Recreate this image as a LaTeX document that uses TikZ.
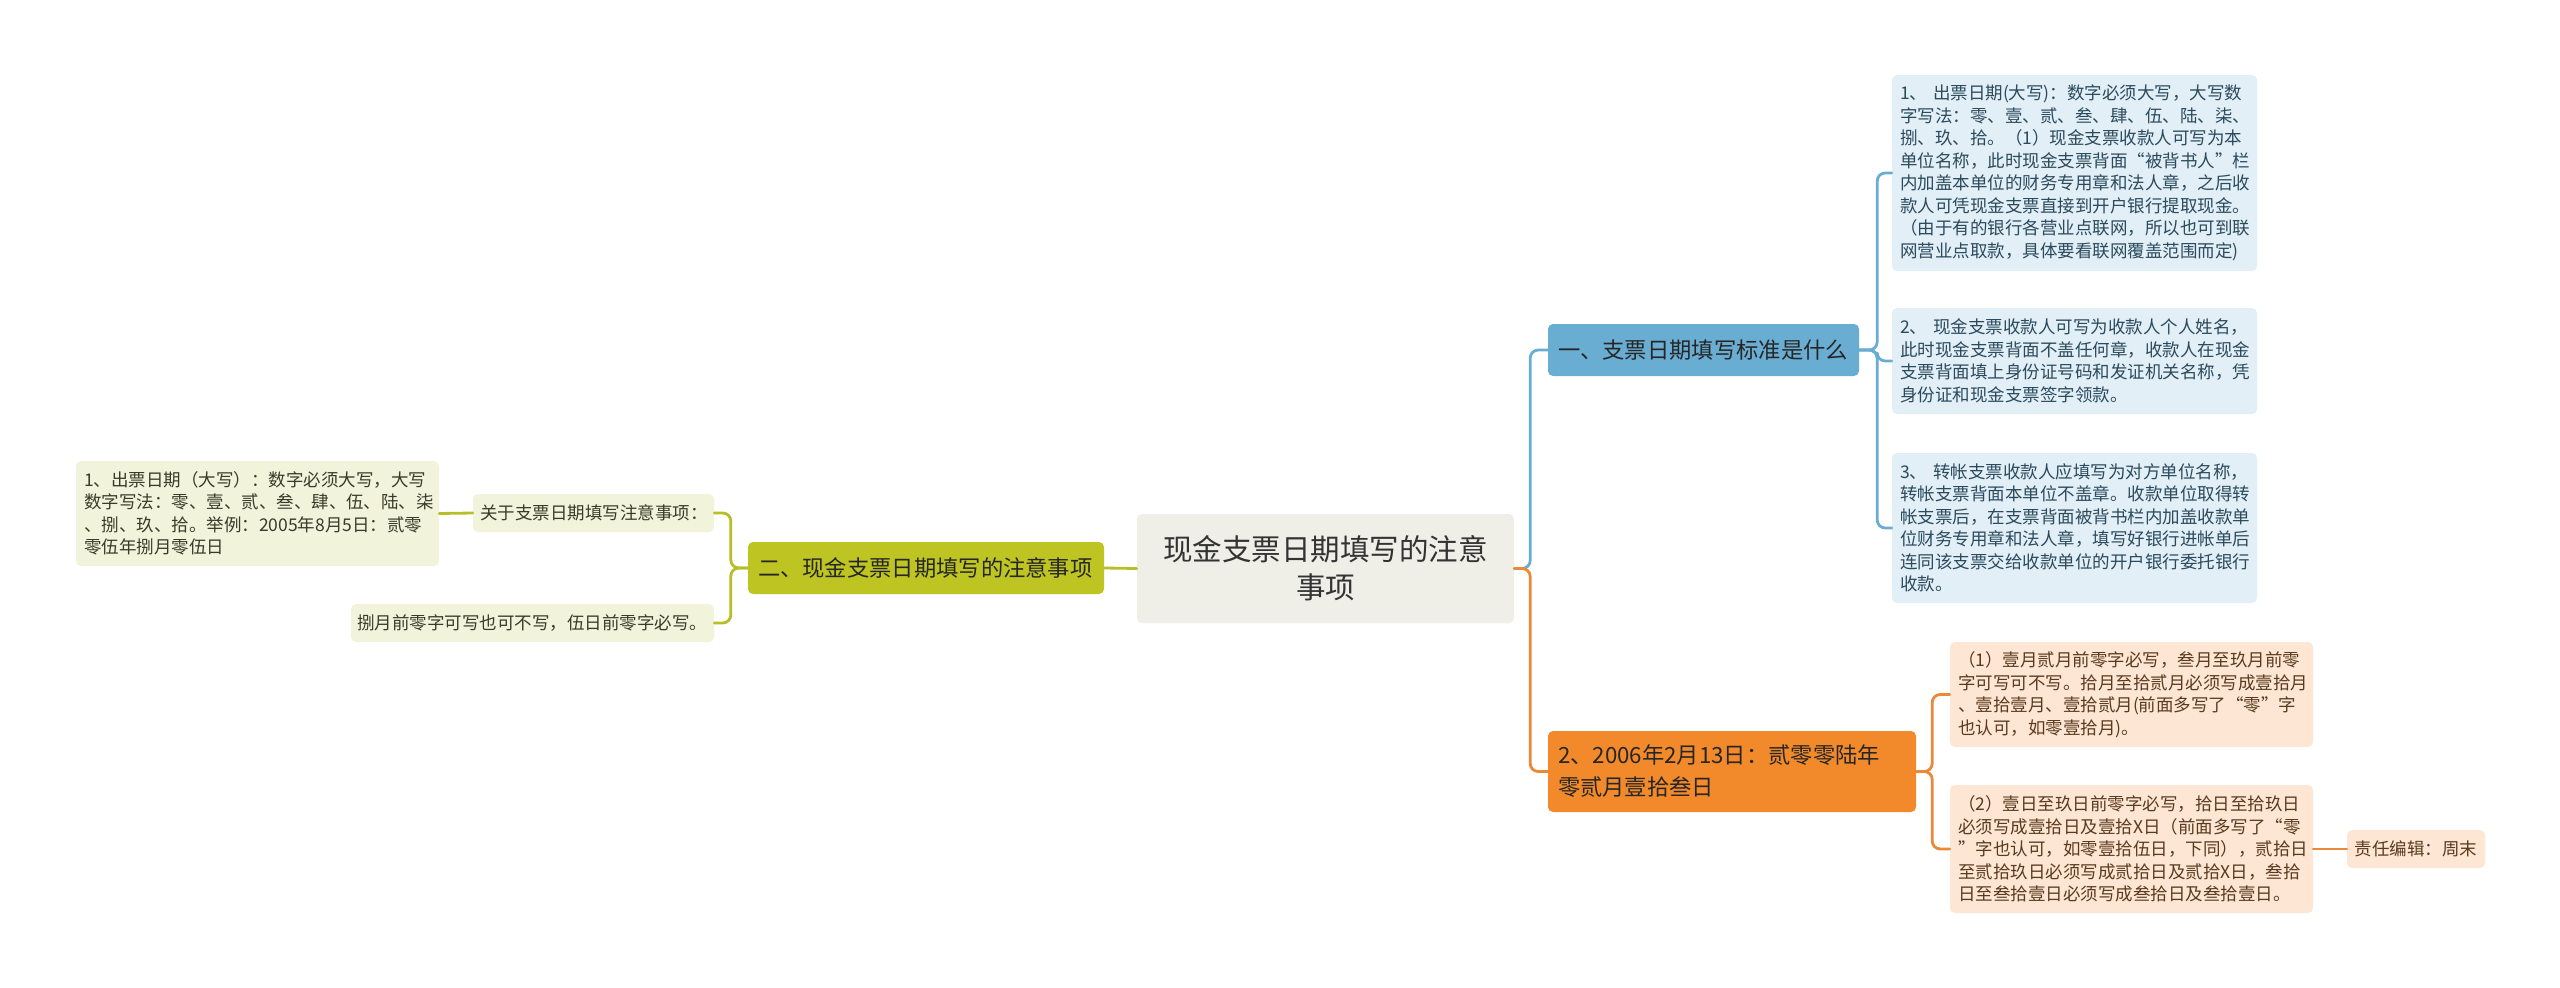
\documentclass[tikz,border=0pt]{standalone}
\usepackage{fontspec}
\setmainfont{Noto Sans CJK SC}
\usepackage{tikz}
\usetikzlibrary{positioning}

\definecolor{hubfill}{HTML}{EFEFE8}
\definecolor{bluemain}{HTML}{6AADD2}
\definecolor{bluesoft}{HTML}{E2EFF7}
\definecolor{bluetext}{HTML}{2B4A5C}
\definecolor{orangemain}{HTML}{F28A2C}
\definecolor{orangeline}{HTML}{EA8A38}
\definecolor{orangesoft}{HTML}{FDE6D4}
\definecolor{orangetext}{HTML}{5A3A1E}
\definecolor{greenmain}{HTML}{BEC523}
\definecolor{greenline}{HTML}{B6BF2A}
\definecolor{greensoft}{HTML}{F1F3DA}
\definecolor{greentext}{HTML}{3A3A2A}

\tikzset{
  box/.style        ={rounded corners=5pt, inner sep=0pt, align=left},
  hub/.style        ={box, fill=hubfill, text=black!80, align=center,
                      font=\fontsize{29.5}{38}\selectfont},
  topic/.style      ={box, font=\fontsize{22.3}{32}\selectfont},
  leaf/.style       ={box, font=\fontsize{17.5}{22.5}\selectfont},
  bluetopic/.style  ={topic, fill=bluemain, text=black!85},
  orangetopic/.style={topic, fill=orangemain, text=black!85},
  greentopic/.style ={topic, fill=greenmain, text=black!85},
  blueleaf/.style   ={leaf, fill=bluesoft, text=bluetext},
  orangeleaf/.style ={leaf, fill=orangesoft, text=orangetext},
  greenleaf/.style  ={leaf, fill=greensoft, text=greentext},
  link/.style       ={line width=2.8pt, rounded corners=8pt},
}

\begin{document}
\begin{tikzpicture}[x=1pt, y=-1pt, line cap=round, line join=round]
  \fill[white] (0,0) rectangle (2560,988);
  \useasboundingbox (0,0) rectangle (2560,988);

  %--- Root ---
  \node[hub, minimum width=377pt, minimum height=109pt] (hub) at (1325.5,568.5)
    {现金支票日期填写的注意\\事项};

  %--- Right side: blue topic and its leaves ---
  \node[bluetopic, minimum width=311pt, minimum height=52pt, text width=291pt] (t1) at (1703.5,350)
    {一、支票日期填写标准是什么};
  \node[blueleaf, minimum width=365pt, minimum height=196pt, text width=349pt] (b1) at (2074.5,173)
    {1、~出票日期(大写)：数字必须大写，大写数\\
     字写法：零、壹、贰、叁、肆、伍、陆、柒、\\
     捌、玖、拾。（1）现金支票收款人可写为本\\
     单位名称，此时现金支票背面“被背书人”栏\\
     内加盖本单位的财务专用章和法人章，之后收\\
     款人可凭现金支票直接到开户银行提取现金。\\
     （由于有的银行各营业点联网，所以也可到联\\
     网营业点取款，具体要看联网覆盖范围而定)};
  \node[blueleaf, minimum width=365pt, minimum height=106pt, text width=349pt] (b2) at (2074.5,361)
    {2、~现金支票收款人可写为收款人个人姓名，\\
     此时现金支票背面不盖任何章，收款人在现金\\
     支票背面填上身份证号码和发证机关名称，凭\\
     身份证和现金支票签字领款。};
  \node[blueleaf, minimum width=365pt, minimum height=150pt, text width=349pt] (b3) at (2074.5,528)
    {3、~转帐支票收款人应填写为对方单位名称，\\
     转帐支票背面本单位不盖章。收款单位取得转\\
     帐支票后，在支票背面被背书栏内加盖收款单\\
     位财务专用章和法人章，填写好银行进帐单后\\
     连同该支票交给收款单位的开户银行委托银行\\
     收款。};

  %--- Right side: orange topic and its leaves ---
  \node[orangetopic, minimum width=368pt, minimum height=81pt, text width=348pt] (t3) at (1732,771.5)
    {2、2006年2月13日：贰零零陆年\\零贰月壹拾叁日};
  \node[orangeleaf, minimum width=363pt, minimum height=105pt, text width=347pt] (o1) at (2131.5,694.5)
    {（1）壹月贰月前零字必写，叁月至玖月前零\\
     字可写可不写。拾月至拾贰月必须写成壹拾月\\
     、壹拾壹月、壹拾贰月(前面多写了“零”字\\
     也认可，如零壹拾月)。};
  \node[orangeleaf, minimum width=363pt, minimum height=128pt, text width=347pt] (o2) at (2131.5,849)
    {（2）壹日至玖日前零字必写，拾日至拾玖日\\
     必须写成壹拾日及壹拾X日（前面多写了“零\\
     ”字也认可，如零壹拾伍日，下同），贰拾日\\
     至贰拾玖日必须写成贰拾日及贰拾X日，叁拾\\
     日至叁拾壹日必须写成叁拾日及叁拾壹日。};
  \node[orangeleaf, minimum width=138pt, minimum height=38pt, align=center] (ed) at (2416,849)
    {责任编辑：周末};

  %--- Left side: green topic and its leaves ---
  \node[greentopic, minimum width=356pt, minimum height=52pt, text width=336pt] (t2) at (926,568)
    {二、现金支票日期填写的注意事项};
  \node[greenleaf, minimum width=241pt, minimum height=38pt, text width=227pt] (g1) at (593.5,513)
    {关于支票日期填写注意事项：};
  \node[greenleaf, minimum width=363pt, minimum height=38pt, text width=351pt] (g2) at (532.5,623)
    {捌月前零字可写也可不写，伍日前零字必写。};
  \node[greenleaf, minimum width=363pt, minimum height=105pt, text width=347pt] (g0) at (257.5,513.5)
    {1、出票日期（大写）：数字必须大写，大写\\
     数字写法：零、壹、贰、叁、肆、伍、陆、柒\\
     、捌、玖、拾。举例：2005年8月5日：贰零\\
     零伍年捌月零伍日};

  %--- Connectors ---
  \draw[link, bluemain]   (hub.east) -- ++(16,0) |- (t1.west);
  \draw[link, orangeline] (hub.east) -- ++(16,0) |- (t3.west);
  \draw[link, bluemain] (t1.east) -- ++(18,0) |- (b1.west);
  \draw[link, bluemain] (t1.east) -- ++(18,0) |- (b2.west);
  \draw[link, bluemain] (t1.east) -- ++(18,0) |- (b3.west);
  \draw[link, orangeline] (t3.east) -- ++(16,0) |- (o1.west);
  \draw[link, orangeline] (t3.east) -- ++(16,0) |- (o2.west);
  \draw[link, orangeline] (o2.east) -- (ed.west);
  \draw[link, greenline] (hub.west) -- (t2.east);
  \draw[link, greenline] (t2.west) -- ++(-17,0) |- (g1.east);
  \draw[link, greenline] (t2.west) -- ++(-17,0) |- (g2.east);
  \draw[link, greenline] (g1.west) -- (g0.east);

\end{tikzpicture}
\end{document}
